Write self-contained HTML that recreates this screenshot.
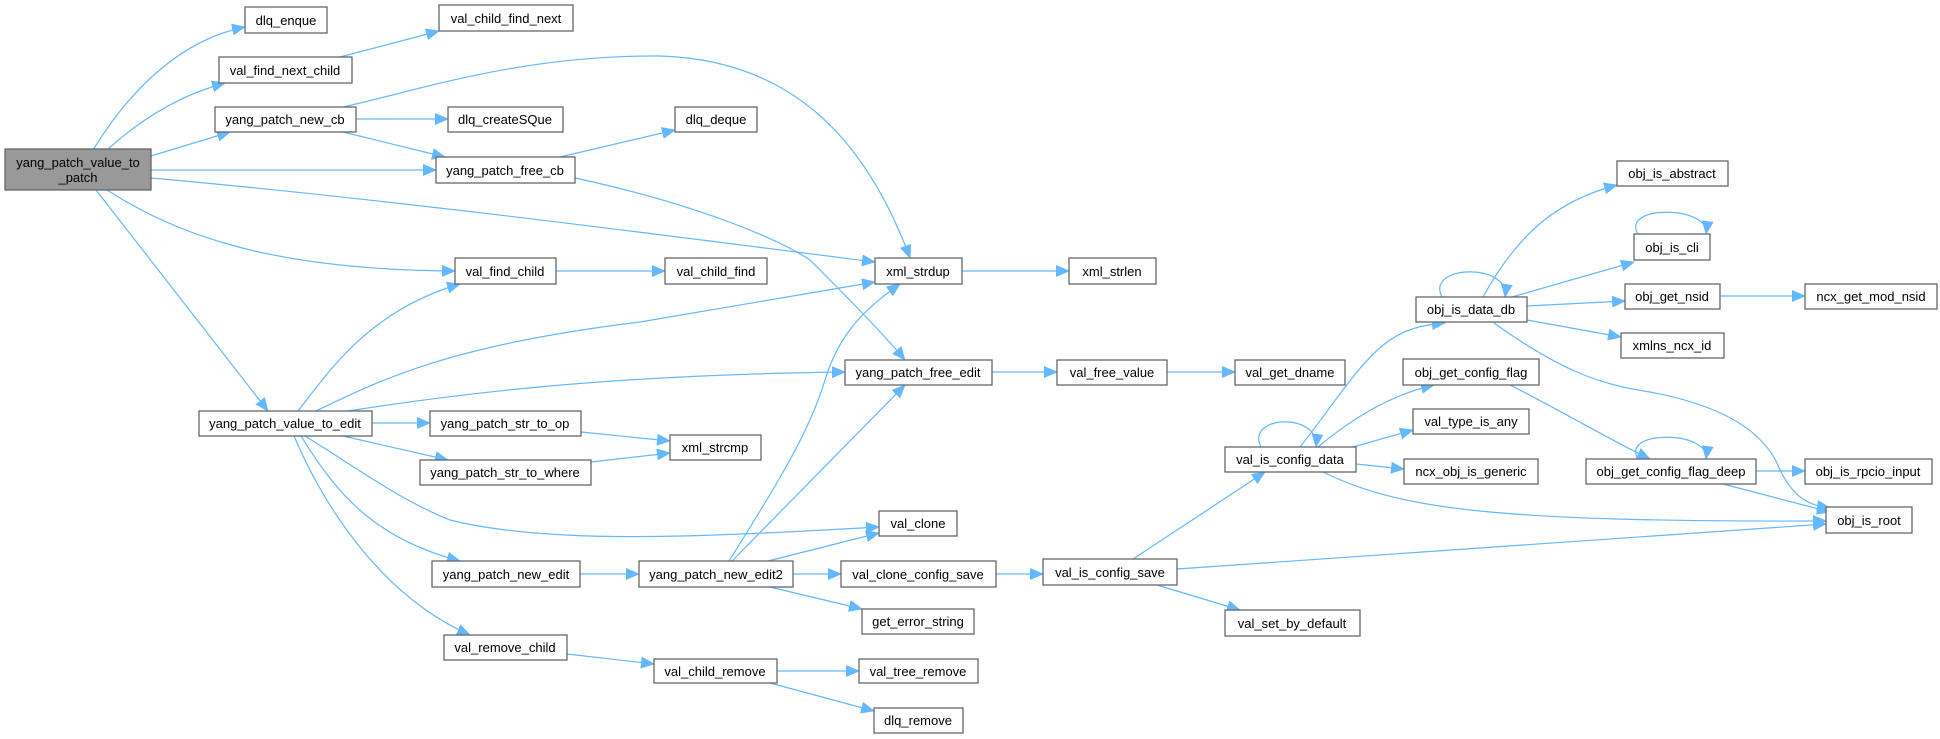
<!DOCTYPE html>
<html><head><meta charset="utf-8"><style>
html,body{margin:0;padding:0;background:#fff;}
svg{display:block;}
text{font-family:"Liberation Sans",Arial,sans-serif;font-size:13px;fill:#000;text-anchor:middle;}
.n{fill:#fff;stroke:#666;stroke-width:1.3;}
.e{fill:none;stroke:#63b8ff;stroke-width:1.2;}
</style></head><body>
<svg width="1940" height="739" viewBox="0 0 1940 739" xmlns="http://www.w3.org/2000/svg">
<defs><marker id="a" markerUnits="userSpaceOnUse" markerWidth="14" markerHeight="12" viewBox="0 0 14 12" refX="13" refY="6" orient="auto"><path d="M0,0 L14,6 L0,12 z" fill="#63b8ff"/></marker></defs>
<g class="e" marker-end="url(#a)">
<path d="M93,150 C130,90 180,40 245,27"/>
<path d="M107,150 C140,120 180,95 225,83"/>
<path d="M151,156 L230,132"/>
<path d="M151,170 L436,170"/>
<path d="M151,178 C400,200 700,240 875,262"/>
<path d="M107,190 C170,230 260,270 455,271"/>
<path d="M96,190 L268,411"/>
<path d="M340,57 L439,31"/>
<path d="M356,119 L448,119"/>
<path d="M343,132 L445,157"/>
<path d="M343,107 C420,90 520,55 660,56 C800,60 870,150 910,258"/>
<path d="M560,157 L675,130"/>
<path d="M575,178 C700,205 780,240 810,260 C840,290 880,330 905,360"/>
<path d="M556,271 L665,271"/>
<path d="M962,271 L1069,271"/>
<path d="M298,411 C330,370 370,310 460,284"/>
<path d="M316,411 C380,380 450,345 640,322 L875,282"/>
<path d="M348,411 C450,395 600,375 845,372"/>
<path d="M372,423 L430,423"/>
<path d="M343,436 L448,460"/>
<path d="M305,436 C360,470 400,500 450,520 C550,545 700,537 879,527"/>
<path d="M301,436 C340,500 380,540 460,561"/>
<path d="M294,436 C330,520 390,600 470,635"/>
<path d="M581,432 L670,441"/>
<path d="M591,462 L670,453"/>
<path d="M580,574 L639,574"/>
<path d="M567,654 L654,664"/>
<path d="M729,561 C780,480 810,430 825,380 C840,330 870,305 900,284"/>
<path d="M732,561 L905,385"/>
<path d="M768,561 L879,533"/>
<path d="M793,574 L841,574"/>
<path d="M770,587 L862,609"/>
<path d="M777,671 L859,671"/>
<path d="M770,683 L874,711"/>
<path d="M992,372 L1057,372"/>
<path d="M1167,372 L1235,372"/>
<path d="M996,574 L1043,574"/>
<path d="M1133,559 L1265,472"/>
<path d="M1177,569 L1826,524"/>
<path d="M1157,585 L1240,610"/>
<path d="M1261,447 C1245,415 1320,412 1316,447"/>
<path d="M1300,447 C1330,410 1360,360 1390,340 C1405,330 1420,325 1445,323"/>
<path d="M1318,447 C1350,420 1390,395 1434,385"/>
<path d="M1353,447 L1413,430"/>
<path d="M1356,464 L1404,469"/>
<path d="M1323,472 C1400,510 1500,522 1826,521"/>
<path d="M1442,297 C1425,265 1510,262 1505,297"/>
<path d="M1483,297 C1520,230 1560,200 1617,185"/>
<path d="M1512,297 L1634,262"/>
<path d="M1527,306 L1625,301"/>
<path d="M1527,320 L1621,337"/>
<path d="M1494,323 C1560,370 1600,385 1650,392 C1720,405 1765,430 1780,470 C1795,500 1810,505 1830,508"/>
<path d="M1638,234 C1620,205 1710,205 1706,234"/>
<path d="M1720,296 L1805,296"/>
<path d="M1510,385 C1560,410 1610,440 1650,459"/>
<path d="M1638,459 C1620,430 1710,430 1706,459"/>
<path d="M1756,471 L1805,471"/>
<path d="M1723,484 L1830,512"/>
</g>
<rect x="5" y="149" width="146" height="41" fill="#999" stroke="#666" stroke-width="1.3"/>
<text x="78" y="167">yang_patch_value_to</text><text x="78" y="182">_patch</text>
<g>
<rect class="n" x="245" y="7" width="82" height="26"/><text x="286" y="25">dlq_enque</text>
<rect class="n" x="439" y="5" width="134" height="26"/><text x="506" y="23">val_child_find_next</text>
<rect class="n" x="219" y="57" width="133" height="26"/><text x="285" y="75">val_find_next_child</text>
<rect class="n" x="215" y="107" width="141" height="25"/><text x="285" y="124">yang_patch_new_cb</text>
<rect class="n" x="448" y="107" width="115" height="25"/><text x="505" y="124">dlq_createSQue</text>
<rect class="n" x="436" y="157" width="139" height="26"/><text x="505" y="175">yang_patch_free_cb</text>
<rect class="n" x="675" y="107" width="82" height="25"/><text x="716" y="124">dlq_deque</text>
<rect class="n" x="455" y="258" width="101" height="26"/><text x="505" y="276">val_find_child</text>
<rect class="n" x="665" y="258" width="102" height="26"/><text x="716" y="276">val_child_find</text>
<rect class="n" x="875" y="258" width="87" height="26"/><text x="918" y="276">xml_strdup</text>
<rect class="n" x="1069" y="258" width="87" height="26"/><text x="1112" y="276">xml_strlen</text>
<rect class="n" x="199" y="411" width="173" height="25"/><text x="285" y="428">yang_patch_value_to_edit</text>
<rect class="n" x="430" y="411" width="151" height="25"/><text x="505" y="428">yang_patch_str_to_op</text>
<rect class="n" x="420" y="460" width="171" height="25"/><text x="505" y="477">yang_patch_str_to_where</text>
<rect class="n" x="670" y="435" width="91" height="25"/><text x="715" y="452">xml_strcmp</text>
<rect class="n" x="845" y="360" width="147" height="25"/><text x="918" y="377">yang_patch_free_edit</text>
<rect class="n" x="1057" y="360" width="110" height="25"/><text x="1112" y="377">val_free_value</text>
<rect class="n" x="1235" y="360" width="110" height="25"/><text x="1290" y="377">val_get_dname</text>
<rect class="n" x="879" y="511" width="78" height="25"/><text x="918" y="528">val_clone</text>
<rect class="n" x="432" y="561" width="148" height="26"/><text x="506" y="579">yang_patch_new_edit</text>
<rect class="n" x="639" y="561" width="154" height="26"/><text x="716" y="579">yang_patch_new_edit2</text>
<rect class="n" x="841" y="561" width="155" height="26"/><text x="918" y="579">val_clone_config_save</text>
<rect class="n" x="862" y="609" width="112" height="25"/><text x="918" y="626">get_error_string</text>
<rect class="n" x="444" y="635" width="123" height="25"/><text x="505" y="652">val_remove_child</text>
<rect class="n" x="654" y="659" width="123" height="24"/><text x="715" y="676">val_child_remove</text>
<rect class="n" x="859" y="659" width="119" height="24"/><text x="918" y="676">val_tree_remove</text>
<rect class="n" x="874" y="708" width="89" height="25"/><text x="918" y="725">dlq_remove</text>
<rect class="n" x="1043" y="559" width="134" height="26"/><text x="1110" y="577">val_is_config_save</text>
<rect class="n" x="1225" y="610" width="135" height="26"/><text x="1292" y="628">val_set_by_default</text>
<rect class="n" x="1225" y="447" width="131" height="25"/><text x="1290" y="464">val_is_config_data</text>
<rect class="n" x="1416" y="297" width="111" height="25"/><text x="1471" y="314">obj_is_data_db</text>
<rect class="n" x="1403" y="359" width="136" height="26"/><text x="1471" y="377">obj_get_config_flag</text>
<rect class="n" x="1413" y="409" width="116" height="25"/><text x="1471" y="426">val_type_is_any</text>
<rect class="n" x="1404" y="459" width="134" height="25"/><text x="1471" y="476">ncx_obj_is_generic</text>
<rect class="n" x="1617" y="161" width="111" height="25"/><text x="1672" y="178">obj_is_abstract</text>
<rect class="n" x="1634" y="234" width="76" height="26"/><text x="1672" y="252">obj_is_cli</text>
<rect class="n" x="1625" y="284" width="95" height="25"/><text x="1672" y="301">obj_get_nsid</text>
<rect class="n" x="1805" y="284" width="132" height="25"/><text x="1871" y="301">ncx_get_mod_nsid</text>
<rect class="n" x="1621" y="333" width="103" height="25"/><text x="1672" y="350">xmlns_ncx_id</text>
<rect class="n" x="1586" y="459" width="170" height="25"/><text x="1671" y="476">obj_get_config_flag_deep</text>
<rect class="n" x="1805" y="459" width="127" height="25"/><text x="1868" y="476">obj_is_rpcio_input</text>
<rect class="n" x="1826" y="507" width="86" height="26"/><text x="1869" y="525">obj_is_root</text>
</g>
</svg>
</body></html>
